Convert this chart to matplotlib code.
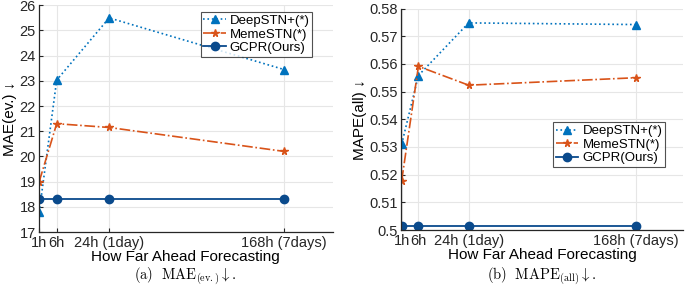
import matplotlib
matplotlib.use("Agg")
import matplotlib.pyplot as plt

plt.rcParams['font.family'] = ['Liberation Sans', 'DejaVu Sans']
plt.rcParams['mathtext.fontset'] = 'cm'

# horizon categories and their x positions on the axis
horizons = ["1h", "6h", "24h (1day)", "168h (7days)"]
x_pos = [1, 2, 5, 15]

# MAE(ev.)
mae_deepstn = [17.78, 23.03, 25.5, 23.45]
mae_memestn = [19.0, 21.3, 21.15, 20.2]
mae_gcpr = [18.3, 18.3, 18.3, 18.3]

# MAPE(all)
mape_deepstn = [0.531, 0.5558, 0.5748, 0.5742]
mape_memestn = [0.5178, 0.5591, 0.5523, 0.5550]
mape_gcpr = [0.5016, 0.5016, 0.5016, 0.5016]

labels = ["DeepSTN+(*)", "MemeSTN(*)", "GCPR(Ours)"]
c_deep = '#0072BD'
c_meme = '#D95319'
c_gcpr = '#0A4A8C'
axis_col = '#262626'

fig = plt.figure(figsize=(6.85, 2.87), dpi=100)
W, H = 685, 287
ax1 = fig.add_axes([38.5 / W, 1 - 232 / H, (333 - 38.5) / W, (232 - 5.3) / H])
ax2 = fig.add_axes([401 / W, 1 - 230 / H, (683 - 401) / W, (230 - 8.5) / H])


def draw(ax, deep, meme, gcpr, ylim, yticks, ylabel, leg_loc, leg_anchor):
    ax.plot(x_pos, deep, linestyle=':', color=c_deep, marker='^', markersize=6,
            linewidth=1.2, label=labels[0])
    ax.plot(x_pos, meme, linestyle='-.', color=c_meme, marker='*', markersize=5.5,
            linewidth=1.2, label=labels[1])
    ax.plot(x_pos, gcpr, linestyle='-', color=c_gcpr, marker='o', markersize=6,
            linewidth=1.3, label=labels[2])
    ax.set_xlim(0.96, 17.8)
    ax.set_ylim(*ylim)
    ax.set_yticks(yticks)
    ax.set_xticks(x_pos)
    ax.set_xticklabels(horizons, fontsize=10.5)
    ax.tick_params(axis='both', direction='in', length=3, colors=axis_col,
                   labelsize=10.5, pad=2)
    ax.tick_params(axis='x', pad=3)
    ax.grid(True, color='#e6e6e6', linewidth=0.8)
    ax.set_axisbelow(True)
    for s in ['top', 'right']:
        ax.spines[s].set_visible(False)
    for s in ['left', 'bottom']:
        ax.spines[s].set_color(axis_col)
        ax.spines[s].set_linewidth(0.9)
    ax.set_ylabel(ylabel, fontsize=11, labelpad=2)
    ax.set_xlabel("How Far Ahead Forecasting", fontsize=11, labelpad=0)
    leg = ax.legend(loc=leg_loc, bbox_to_anchor=leg_anchor, fontsize=9.5,
                    frameon=True, fancybox=False, borderpad=0.2,
                    labelspacing=0.1, handlelength=1.7, handletextpad=0.3,
                    borderaxespad=0.0)
    leg.get_frame().set_edgecolor('#262626')
    leg.get_frame().set_linewidth(0.8)


draw(ax1, mae_deepstn, mae_memestn, mae_gcpr, (17, 26), range(17, 27),
     "MAE(ev.) ↓", 'upper right', (0.93, 0.97))
draw(ax2, mape_deepstn, mape_memestn, mape_gcpr, (0.5, 0.58),
     [0.5, 0.51, 0.52, 0.53, 0.54, 0.55, 0.56, 0.57, 0.58],
     "MAPE(all) ↓", 'lower right', (0.936, 0.284))
ax2.set_yticklabels(['0.5', '0.51', '0.52', '0.53', '0.54', '0.55', '0.56',
                     '0.57', '0.58'])

fig.text((38.5 + 333) / 2 / W, 1 - 276 / H,
         r"$(\mathrm{a})\ \ \mathrm{MAE}_{(\mathrm{ev.})}\downarrow.$",
         ha='center', va='center', fontsize=10.5)
fig.text((401 + 683) / 2 / W, 1 - 276 / H,
         r"$(\mathrm{b})\ \ \mathrm{MAPE}_{(\mathrm{all})}\downarrow.$",
         ha='center', va='center', fontsize=10.5)

fig.savefig("out.png", dpi=100)
